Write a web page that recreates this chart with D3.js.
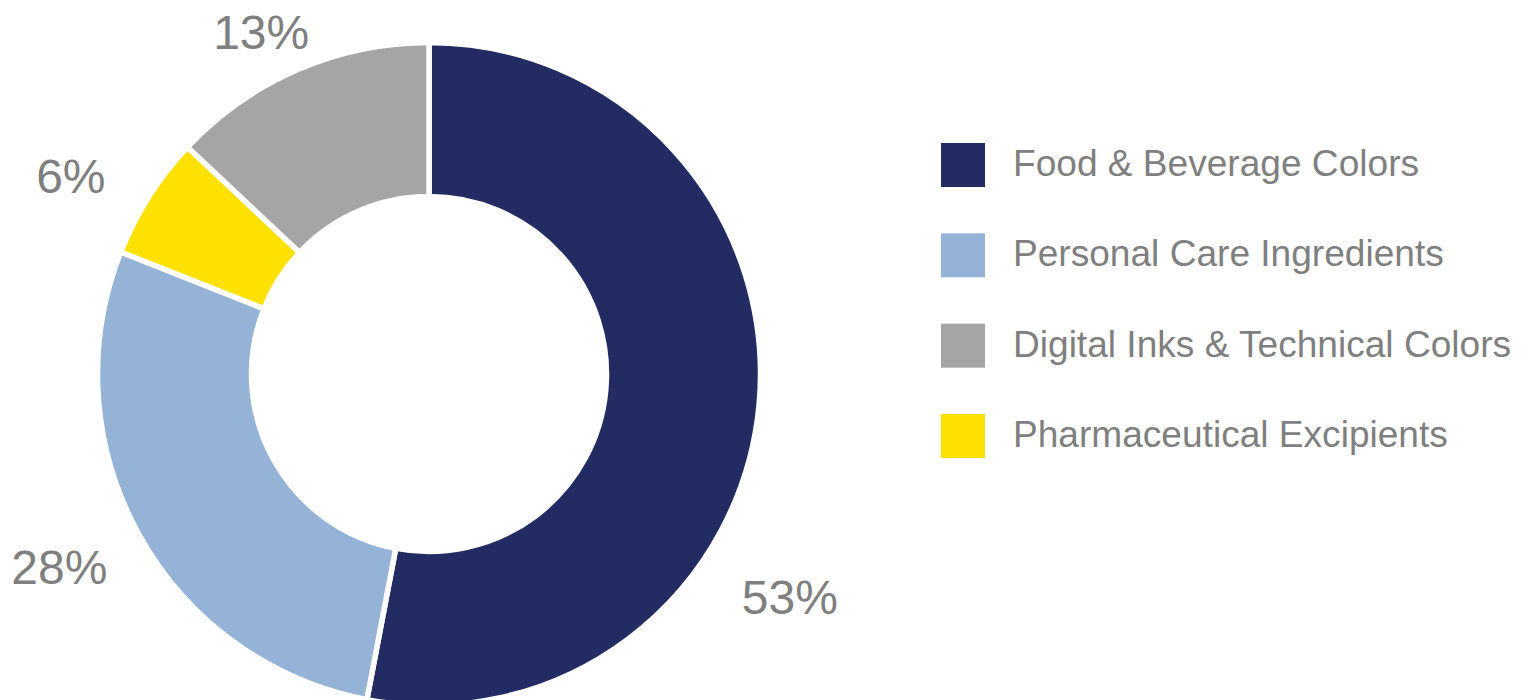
<!DOCTYPE html>
<html>
<head>
<meta charset="utf-8">
<script src="https://cdn.jsdelivr.net/npm/d3@7/dist/d3.min.js"></script>
<style>
  html, body { margin: 0; padding: 0; background: #ffffff; }
  svg { display: block; }
  text { font-family: "Liberation Sans", Arial, sans-serif; }
</style>
</head>
<body>
<svg id="chart" width="1524" height="700"></svg>
<script>
// ---- data ----
const categories = ["Food & Beverage Colors", "Personal Care Ingredients", "Pharmaceutical Excipients", "Digital Inks & Technical Colors"];
const values = [53, 28, 6, 13];
const colors = ["#222B62", "#95B3D7", "#FFE100", "#A5A5A5"];
const legendOrder = ["Food & Beverage Colors", "Personal Care Ingredients", "Digital Inks & Technical Colors", "Pharmaceutical Excipients"];

// ---- layout ----
const cx = 429, cy = 374;
const outerR = 331.5, innerR = 177.5;   // visible 329 / 180 after white border
const labelPad = 38;
const labelFont = 48;
const textColor = "#7F7F7F";
// small manual nudges of the data labels (as placed in the original)
const labelNudge = {
  "Food & Beverage Colors": [8, 20],
  "Personal Care Ingredients": [-6, 8],
  "Pharmaceutical Excipients": [-19, 8],
  "Digital Inks & Technical Colors": [-3, 10]
};
const labelAngleShift = { "Food & Beverage Colors": 0.46 };

const svg = d3.select("#chart");
const g = svg.append("g").attr("transform", `translate(${cx},${cy})`);

const data = categories.map((c, i) => ({ cat: c, value: values[i] }));
const color = d3.scaleOrdinal().domain(categories).range(colors);

const pie = d3.pie().value(d => d.value).sort(null);
const arcs = pie(data);
const arc = d3.arc().innerRadius(innerR).outerRadius(outerR);

g.selectAll("path.slice")
  .data(arcs)
  .join("path")
  .attr("class", "slice")
  .attr("d", arc)
  .attr("fill", d => color(d.data.cat))
  .attr("stroke", "#ffffff")
  .attr("stroke-width", 5.5)
  .attr("stroke-linejoin", "miter");

const visR = 329;
const labels = g.selectAll("text.lbl")
  .data(arcs)
  .join("text")
  .attr("class", "lbl")
  .attr("font-size", labelFont)
  .attr("fill", textColor)
  .attr("text-anchor", "middle")
  .text(d => d.data.value + "%");

labels.each(function(d) {
  const t = d3.select(this);
  const bb = this.getBBox();
  const w = bb.width, h = labelFont * 0.72;
  const a = (d.startAngle + d.endAngle) / 2 + (labelAngleShift[d.data.cat] || 0);
  const ux = Math.sin(a), uy = -Math.cos(a);
  const nd = labelNudge[d.data.cat] || [0, 0];
  const px = ux * (visR + labelPad) + ux * w / 2 + nd[0];
  const py = uy * (visR + labelPad) + uy * h / 2 + nd[1];
  t.attr("x", px).attr("y", py + h / 2);
});

// legend
const legend = svg.append("g");
const rowY = d3.scalePoint().domain(legendOrder).range([163, 434]);
const rows = legend.selectAll("g.row")
  .data(legendOrder)
  .join("g")
  .attr("class", "row")
  .attr("transform", d => `translate(0,${rowY(d)})`);

rows.append("rect")
  .attr("x", 941)
  .attr("y", -20)
  .attr("width", 44)
  .attr("height", 44)
  .attr("fill", d => color(d));

rows.append("text")
  .attr("x", 1013)
  .attr("y", 13)
  .attr("font-size", 37.1)
  .attr("fill", textColor)
  .text(d => d);
</script>
</body>
</html>
